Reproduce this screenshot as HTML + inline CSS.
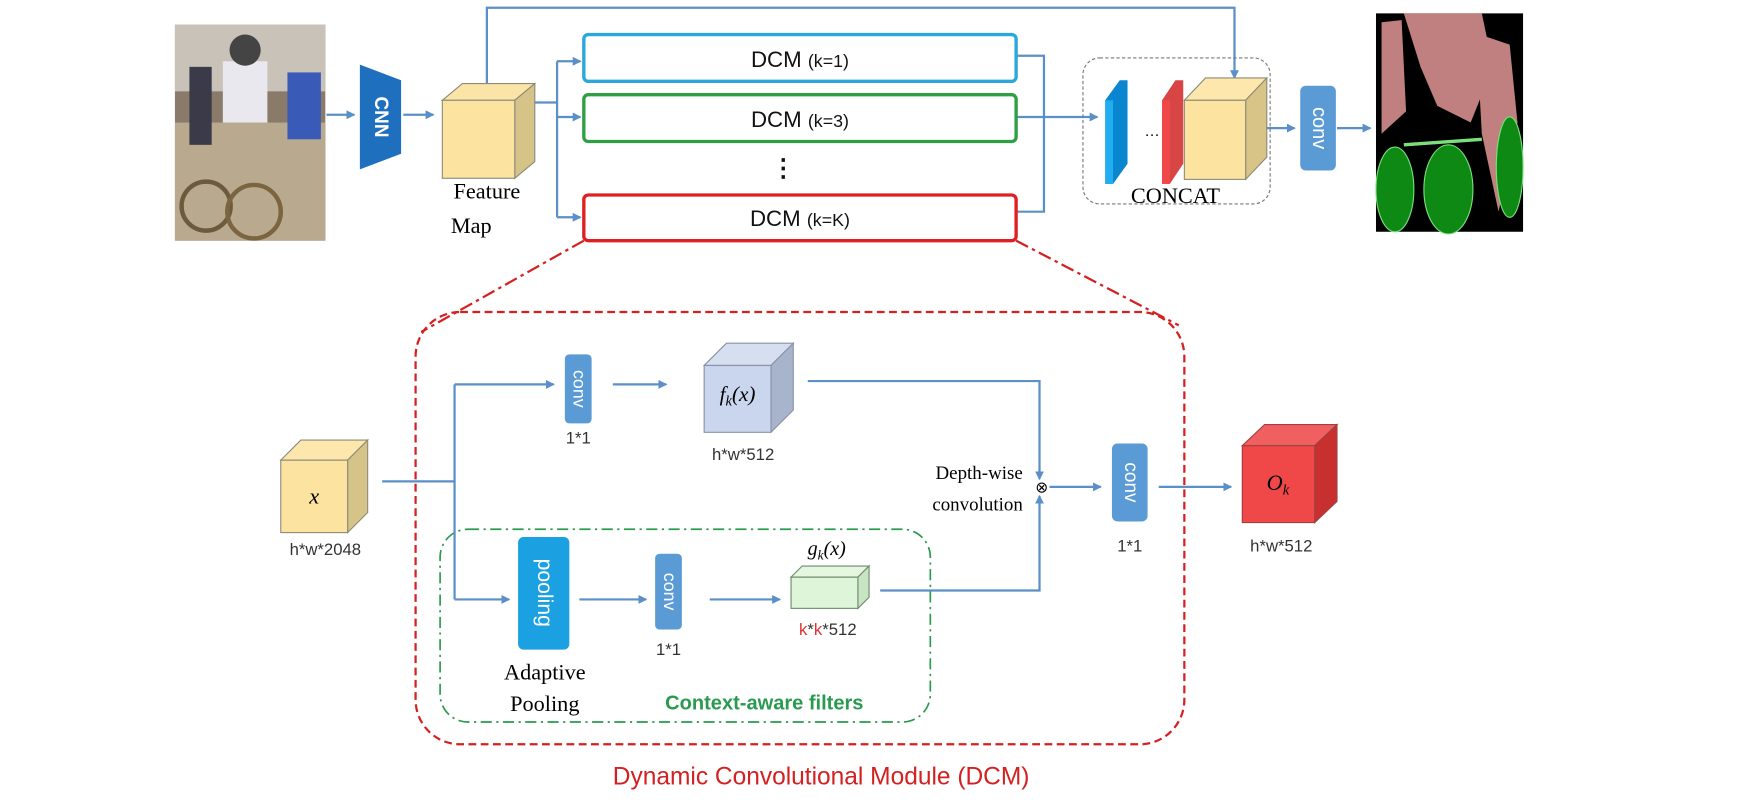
<!DOCTYPE html>
<html><head><meta charset="utf-8"><style>
html,body{margin:0;padding:0;background:#fff;}
svg{display:block;}
.s{font-family:"Liberation Sans",sans-serif;}
.r{font-family:"Liberation Serif",serif;}
</style></head><body>
<svg width="1747" height="803" viewBox="0 0 1568 720.7" preserveAspectRatio="none" xmlns="http://www.w3.org/2000/svg">
<defs>
<marker id="a" markerWidth="8" markerHeight="8" refX="7" refY="4" orient="auto" markerUnits="userSpaceOnUse"><path d="M0,0 L8,4 L0,8 Z" fill="#5b8fc7"/></marker>
</defs>
<rect x="157" y="22" width="135" height="194" fill="#8a7a6a"/>
<rect x="157" y="22" width="135" height="60" fill="#c9c2b8"/>
<rect x="157" y="110" width="135" height="106" fill="#b9a98e"/>
<circle cx="185" cy="185" r="22" fill="none" stroke="#6b5a3c" stroke-width="4"/>
<circle cx="228" cy="190" r="24" fill="none" stroke="#7a6540" stroke-width="4"/>
<rect x="200" y="55" width="40" height="55" fill="#e8e8ee"/>
<rect x="258" y="65" width="30" height="60" fill="#3a5ab8"/>
<rect x="170" y="60" width="20" height="70" fill="#3a3a48"/>
<circle cx="220" cy="45" r="14" fill="#444"/>
<polygon points="323,58 360,72 360,138 323,152" fill="#1f6fbf"/>
<text x="341" y="105" class="s" font-size="17" font-weight="bold" fill="#fff" text-anchor="middle" dominant-baseline="middle" transform="rotate(90 341 105)">CNN</text>
<g stroke="#5b8fc7" stroke-width="2" fill="none">
<line x1="293" y1="103" x2="318" y2="103" marker-end="url(#a)"/>
<line x1="362" y1="103" x2="389" y2="103" marker-end="url(#a)"/>
</g>
<polygon points="397,90 415,75 480,75 462,90" fill="#fbe4a8" stroke="#8b8b7a"/>
<polygon points="462,90 480,75 480,145 462,160" fill="#d6c387" stroke="#8b8b7a"/>
<rect x="397" y="90" width="65" height="70" fill="#fde3a0" stroke="#8b8b7a"/>
<text x="437" y="178" class="r" font-size="20" text-anchor="middle">Feature</text>
<text x="423" y="209" class="r" font-size="20" text-anchor="middle">Map</text>
<g stroke="#5b8fc7" stroke-width="2" fill="none">
<polyline points="437,75 437,7 1108,7 1108,70" marker-end="url(#a)"/>
<polyline points="480,92 500,92"/>
<line x1="500" y1="55" x2="500" y2="195"/>
<line x1="500" y1="55" x2="521" y2="55" marker-end="url(#a)"/>
<line x1="500" y1="105" x2="521" y2="105" marker-end="url(#a)"/>
<line x1="500" y1="195" x2="521" y2="195" marker-end="url(#a)"/>
<polyline points="912,50 937,50 937,190 912,190"/>
<line x1="912" y1="105" x2="985" y2="105" marker-end="url(#a)"/>
<line x1="1137" y1="115" x2="1162" y2="115" marker-end="url(#a)"/>
<line x1="1200" y1="115" x2="1230" y2="115" marker-end="url(#a)"/>
</g>
<rect x="524" y="31" width="388" height="42" rx="4" fill="#fff" stroke="#2aa7dc" stroke-width="3"/>
<rect x="524" y="85" width="388" height="42" rx="4" fill="#fff" stroke="#2ea043" stroke-width="3"/>
<rect x="524" y="175" width="388" height="41" rx="4" fill="#fff" stroke="#e02020" stroke-width="3"/>
<g class="s" text-anchor="middle" fill="#111">
<text x="718" y="60"><tspan font-size="20">DCM </tspan><tspan font-size="16">(k=1)</tspan></text>
<text x="718" y="114"><tspan font-size="20">DCM </tspan><tspan font-size="16">(k=3)</tspan></text>
<text x="718" y="203"><tspan font-size="20">DCM </tspan><tspan font-size="16">(k=K)</tspan></text>
<text x="703" y="158" font-size="22" font-weight="bold">⋮</text>
</g>
<rect x="972" y="52" width="168" height="131" rx="15" fill="none" stroke="#777" stroke-dasharray="3,2"/>
<polygon points="992,90 1005,72 1012,72 1012,147 999,165 992,165" fill="#0a86d0"/>
<rect x="992" y="90" width="7" height="75" fill="#20aef0"/>
<polygon points="1043,90 1055,72 1062,72 1062,147 1050,165 1043,165" fill="#d84545"/>
<rect x="1043" y="90" width="7" height="75" fill="#f04848"/>
<text x="1027" y="122" font-size="14" class="s">…</text>
<polygon points="1063,90 1082,70 1137,70 1118,90" fill="#fde7ac" stroke="#8b8b7a"/>
<polygon points="1118,90 1137,70 1137,141 1118,161" fill="#d8c487" stroke="#8b8b7a"/>
<rect x="1063" y="90" width="55" height="71" fill="#fde3a0" stroke="#8b8b7a"/>
<text x="1055" y="182" class="r" font-size="20" text-anchor="middle">CONCAT</text>
<rect x="1167" y="77" width="32" height="76" rx="5" fill="#5b9bd5"/>
<text x="1183" y="115" class="s" font-size="18" fill="#fff" text-anchor="middle" dominant-baseline="middle" transform="rotate(90 1183 115)">conv</text>
<rect x="1235" y="12" width="132" height="196" fill="#000"/>
<path d="M1260,12 L1330,12 L1340,60 L1320,110 L1290,95 L1275,60 Z" fill="#c08080"/>
<path d="M1325,30 L1355,40 L1362,110 L1345,190 L1330,120 Z" fill="#c08080"/>
<path d="M1240,20 L1258,18 L1262,100 L1240,120 Z" fill="#c08080"/>
<ellipse cx="1252" cy="170" rx="17" ry="38" fill="#0e8a14" stroke="#7be07b"/>
<ellipse cx="1300" cy="170" rx="22" ry="40" fill="#0e8a14" stroke="#7be07b"/>
<ellipse cx="1355" cy="150" rx="12" ry="45" fill="#0e8a14" stroke="#7be07b"/>
<line x1="1260" y1="130" x2="1330" y2="125" stroke="#7be07b" stroke-width="3"/>
<g stroke="#d42020" stroke-width="2" fill="none" stroke-dasharray="12,4,3,4">
<line x1="524" y1="216" x2="378" y2="298"/>
<line x1="912" y1="216" x2="1058" y2="292"/>
</g>
<rect x="373" y="280" width="690" height="388" rx="40" fill="none" stroke="#d42020" stroke-width="2" stroke-dasharray="7,4"/>
<text x="737" y="704" class="s" font-size="22" fill="#d42020" text-anchor="middle">Dynamic Convolutional Module (DCM)</text>
<rect x="395" y="475" width="440" height="173" rx="25" fill="none" stroke="#2a9a50" stroke-width="1.5" stroke-dasharray="10,4,2,4"/>
<g stroke="#5b8fc7" stroke-width="2" fill="none">
<line x1="343" y1="432" x2="408" y2="432"/>
<line x1="408" y1="345" x2="408" y2="538"/>
<line x1="408" y1="345" x2="497" y2="345" marker-end="url(#a)"/>
<line x1="408" y1="538" x2="457" y2="538" marker-end="url(#a)"/>
<line x1="550" y1="345" x2="598" y2="345" marker-end="url(#a)"/>
<polyline points="725,342 933,342 933,430" marker-end="url(#a)"/>
<polyline points="790,530 933,530 933,445" marker-end="url(#a)"/>
<line x1="942" y1="437" x2="988" y2="437" marker-end="url(#a)"/>
<line x1="1040" y1="437" x2="1105" y2="437" marker-end="url(#a)"/>
<line x1="520" y1="538" x2="580" y2="538" marker-end="url(#a)"/>
<line x1="637" y1="538" x2="700" y2="538" marker-end="url(#a)"/>
</g>
<text x="935" y="442" font-size="14" text-anchor="middle" class="s">⊗</text>
<polygon points="252,413 270,395 330,395 312,413" fill="#fde7ac" stroke="#8b8b7a"/>
<polygon points="312,413 330,395 330,460 312,478" fill="#d6c387" stroke="#8b8b7a"/>
<rect x="252" y="413" width="60" height="65" fill="#fde3a0" stroke="#8b8b7a"/>
<text x="282" y="452" class="r" font-size="20" font-style="italic" text-anchor="middle">x</text>
<text x="292" y="498" class="s" font-size="15" text-anchor="middle" fill="#333">h*w*2048</text>
<rect x="507" y="318" width="24" height="62" rx="4" fill="#5b9bd5"/>
<text x="519" y="349" class="s" font-size="16" fill="#fff" text-anchor="middle" dominant-baseline="middle" transform="rotate(90 519 349)">conv</text>
<text x="519" y="398" class="s" font-size="15" text-anchor="middle" fill="#333">1*1</text>
<polygon points="632,328 652,308 712,308 692,328" fill="#d6dff0" stroke="#8892a8"/>
<polygon points="692,328 712,308 712,368 692,388" fill="#a8b4cc" stroke="#8892a8"/>
<rect x="632" y="328" width="60" height="60" fill="#c9d6ee" stroke="#8892a8"/>
<text x="662" y="360" class="r" font-size="19" font-style="italic" text-anchor="middle">f<tspan font-size="13" dy="4">k</tspan><tspan dy="-4">(x)</tspan></text>
<text x="667" y="413" class="s" font-size="15" text-anchor="middle" fill="#333">h*w*512</text>
<text x="918" y="430" class="r" font-size="17" text-anchor="end">Depth-wise</text>
<text x="918" y="458" class="r" font-size="17" text-anchor="end">convolution</text>
<rect x="998" y="398" width="32" height="70" rx="5" fill="#5b9bd5"/>
<text x="1014" y="433" class="s" font-size="17" fill="#fff" text-anchor="middle" dominant-baseline="middle" transform="rotate(90 1014 433)">conv</text>
<text x="1014" y="495" class="s" font-size="15" text-anchor="middle" fill="#333">1*1</text>
<polygon points="1115,400 1135,381 1200,381 1180,400" fill="#f06060" stroke="#a04040"/>
<polygon points="1180,400 1200,381 1200,450 1180,469" fill="#c83030" stroke="#a04040"/>
<rect x="1115" y="400" width="65" height="69" fill="#f04848" stroke="#a04040"/>
<text x="1147" y="440" class="r" font-size="20" font-style="italic" text-anchor="middle">O<tspan font-size="13" dy="4">k</tspan></text>
<text x="1150" y="495" class="s" font-size="15" text-anchor="middle" fill="#333">h*w*512</text>
<rect x="465" y="482" width="46" height="101" rx="5" fill="#1ba1e2"/>
<text x="488" y="532" class="s" font-size="19" fill="#fff" text-anchor="middle" dominant-baseline="middle" transform="rotate(90 488 532)">pooling</text>
<rect x="588" y="497" width="24" height="68" rx="4" fill="#5b9bd5"/>
<text x="600" y="531" class="s" font-size="16" fill="#fff" text-anchor="middle" dominant-baseline="middle" transform="rotate(90 600 531)">conv</text>
<text x="600" y="588" class="s" font-size="15" text-anchor="middle" fill="#333">1*1</text>
<polygon points="710,518 720,508 780,508 770,518" fill="#e6f7e0" stroke="#6a8a6a"/>
<polygon points="770,518 780,508 780,536 770,546" fill="#c9e4c4" stroke="#6a8a6a"/>
<rect x="710" y="518" width="60" height="28" fill="#dff5da" stroke="#6a8a6a"/>
<text x="742" y="498" class="r" font-size="18" font-style="italic" text-anchor="middle">g<tspan font-size="12" dy="4">k</tspan><tspan dy="-4">(x)</tspan></text>
<text x="743" y="570" class="s" font-size="15" text-anchor="middle" fill="#333"><tspan fill="#e03030">k</tspan>*<tspan fill="#e03030">k</tspan>*512</text>
<text x="489" y="610" class="r" font-size="20" text-anchor="middle">Adaptive</text>
<text x="489" y="638" class="r" font-size="20" text-anchor="middle">Pooling</text>
<text x="686" y="637" class="s" font-size="18" font-weight="bold" fill="#2a9a50" text-anchor="middle">Context-aware filters</text>
</svg>
</body></html>
